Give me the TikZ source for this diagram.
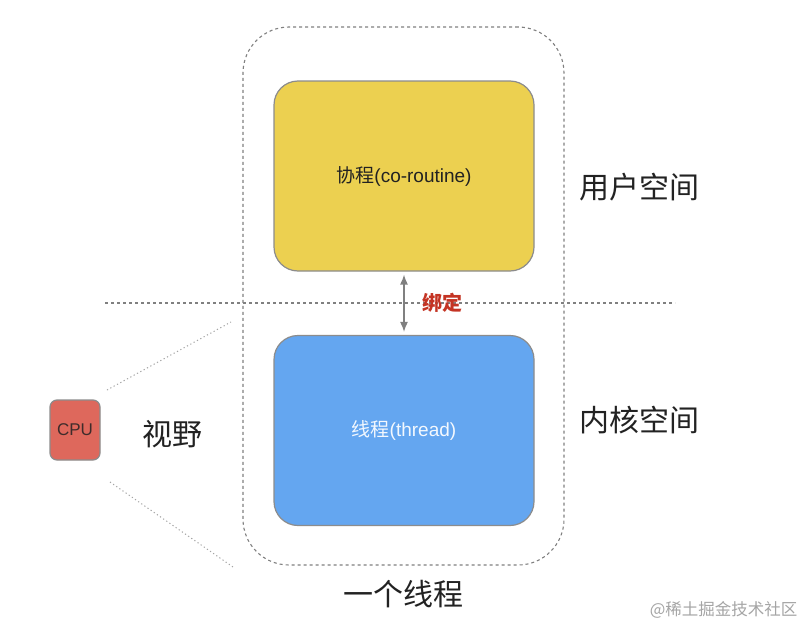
\documentclass[tikz,border=0pt]{standalone}
\usepackage{fontspec}
\setmainfont{Noto Sans CJK SC}
\newfontfamily\latin{Liberation Sans}
\usetikzlibrary{positioning,calc,arrows.meta}
\definecolor{ink}{RGB}{34,34,34}
\definecolor{edge}{RGB}{140,140,140}
\definecolor{dash}{RGB}{128,128,128}
\definecolor{corout}{RGB}{236,208,80}
\definecolor{thread}{RGB}{100,166,240}
\definecolor{cpu}{RGB}{222,104,92}
\definecolor{bindred}{RGB}{196,52,36}
\definecolor{mark}{RGB}{165,165,165}
\tikzset{
  box/.style={draw=edge, line width=1.2pt, rounded corners=24pt, minimum width=260pt, minimum height=190pt, inner sep=0pt},
  frame/.style={draw=dash, line width=1.1pt, dash pattern=on 3pt off 3pt, rounded corners=46pt, minimum width=321pt, minimum height=538pt, inner sep=0pt},
  split/.style={draw=dash, line width=1.1pt, dash pattern=on 3pt off 3pt},
  view/.style={draw=mark, line width=1pt, dash pattern=on 1.2pt off 2.6pt},
  bind/.style={{Latex[length=10pt,width=8pt]}-{Latex[length=10pt,width=8pt]}, draw=dash, line width=1.3pt, shorten <=3pt, shorten >=3pt},
  big/.style={font=\fontsize{30}{34}\selectfont, text=ink},
  inner/.style={font=\fontsize{19}{23}\selectfont},
}

\begin{document}
\begin{tikzpicture}[x=1pt,y=-1pt]
  \useasboundingbox[fill=white] (0,0) rectangle (809,629);

  % one thread, seen from outside
  \node[frame] (thr) at (403.5,296) {};
  \node[big] (thrlbl) at (403.5,594) {一个线程};

  % user / kernel split
  \coordinate (splitL) at (105,303);
  \coordinate (splitR) at (675,303);
  \draw[split] (splitL) -- (splitR);

  % coroutine and thread boxes
  \node[box, fill=corout, text=ink, inner] (co) at (404,176) {协程{\latin(co-routine)}};
  \node[box, fill=thread, text=white!92!thread, inner] (th) at (404,430.5) {线程{\latin(thread)}};
  \draw[bind] (co.south) -- (th.north);
  \node[font=\fontsize{20}{24}\selectfont\bfseries, text=bindred, right=15pt of $(co.south)!0.5!(th.north)$] (bind) {绑定};

  % space labels
  \node[big] (user) at (639,187) {用户空间};
  \node[big] (kern) at (639,420) {内核空间};

  % cpu and its view
  \node[draw=edge, line width=1.2pt, fill=cpu, rounded corners=7pt, minimum width=50pt, minimum height=60pt, inner sep=0pt, font=\latin\fontsize{17}{20}\selectfont, text=ink!85!cpu] (cpu) at (75,430) {CPU};
  \node[big] (sight) at (172,434) {视野};
  \coordinate (viewA) at (107,390);
  \coordinate (viewB) at (231,322);
  \coordinate (viewC) at (110,482);
  \coordinate (viewD) at (233,567);
  \draw[view] (viewA) -- (viewB);
  \draw[view] (viewC) -- (viewD);

  % watermark
  \node[anchor=east, font=\fontsize{16.5}{19}\selectfont, text=mark] (wm) at (801,610) {@稀土掘金技术社区};
\end{tikzpicture}
\end{document}
